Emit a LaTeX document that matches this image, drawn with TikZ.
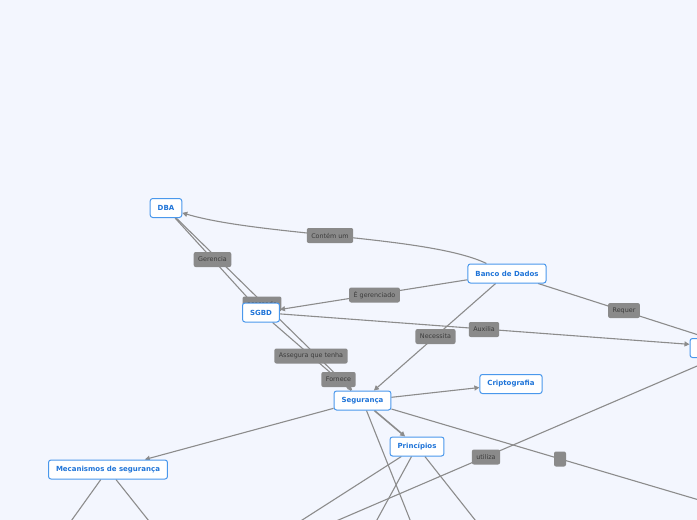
\documentclass[tikz,border=0pt]{standalone}
\usepackage{fontspec}
\setmainfont{DejaVu Sans}
\usetikzlibrary{arrows.meta, backgrounds}
\definecolor{pagebg}{HTML}{F3F6FE}
\definecolor{topicblue}{HTML}{1F74D8}
\definecolor{topicline}{HTML}{4A98EC}
\definecolor{linkgray}{HTML}{8C8C8C}
\definecolor{tagfill}{HTML}{8A8A8A}
\definecolor{tagtext}{HTML}{3C3C3C}

\begin{document}
\begin{tikzpicture}[
  x=1pt, y=-1pt,
  topic/.style={rectangle, rounded corners=2.5pt, draw=topicline, line width=1pt, fill=white,
    text=topicblue, font=\bfseries\fontsize{7}{8}\selectfont,
    minimum height=19pt, inner xsep=7.5pt, inner ysep=0pt},
  tag/.style={rectangle, rounded corners=2pt, fill=tagfill, text=tagtext,
    font=\fontsize{6.4}{7}\selectfont, minimum height=15pt, inner xsep=4.5pt, inner ysep=0pt},
  link/.style={draw=linkgray, line width=1.1pt},
  arrow/.style={link, -{Triangle[length=5pt, width=5pt]}}
]
\useasboundingbox (0,0) rectangle (697,520);

\node[topic] (dba) at (166,208) {DBA};
\node[topic] (banco) at (507,273.5) {Banco de Dados};
\node[topic] (sgbd) at (261,312.5) {SGBD};
\node[topic] (seguranca) at (362.5,400.5) {Segurança};
\node[topic] (cripto) at (511,384) {Criptografia};
\node[topic] (principios) at (417,446.5) {Princípios};
\node[topic] (mecanismos) at (108,469.5) {Mecanismos de segurança};
\node[topic, minimum width=98pt] (lado) at (739,348) {};

% ends of links leaving the page
\coordinate (ladoOut) at (250,558);
\coordinate (segOut) at (760,518);
\coordinate (segDown) at (430,570);
\coordinate (prinA) at (260,547);
\coordinate (prinB) at (360,551);
\coordinate (prinC) at (500,551.5);
\coordinate (mecA) at (50,550.5);
\coordinate (mecB) at (172,550);

\begin{scope}[on background layer]
\fill[pagebg] (0,0) rectangle (697,520);

\draw[arrow] (banco) .. controls (430,236) and (260,236) .. (dba);
\draw[link] (dba) -- (sgbd);
\draw[arrow] (dba) -- (seguranca);
\draw[link] (sgbd) -- (seguranca);
\draw[arrow] (banco) -- (sgbd);
\draw[arrow] (sgbd) -- (lado);
\draw[arrow] (banco) -- (seguranca);
\draw[link] (banco) -- (lado);
\draw[link] (lado) -- (ladoOut);
\draw[arrow] (seguranca) -- (cripto);
\draw[arrow, line width=1.6pt] (seguranca) -- (principios);
\draw[arrow] (seguranca) -- (mecanismos);
\draw[link] (seguranca) -- (segOut);
\draw[link] (seguranca) -- (segDown);
\draw[link] (principios) -- (prinA);
\draw[link] (principios) -- (prinB);
\draw[link] (principios) -- (prinC);
\draw[link] (mecanismos) -- (mecA);
\draw[link] (mecanismos) -- (mecB);

\node[tag] (tContem) at (330,235.5) {Contém um};
\node[tag] (tGerencia) at (212.5,259.5) {Gerencia};
\node[tag] (tAcessado) at (262,304) {acessado};
\node[tag] (tGerenciado) at (374.5,295) {É gerenciado};
\node[tag] (tAuxilia) at (484,329.5) {Auxilia};
\node[tag] (tNecessita) at (435.5,336.5) {Necessita};
\node[tag] (tRequer) at (624,310.5) {Requer};
\node[tag] (tAssegura) at (311,356) {Assegura que tenha};
\node[tag] (tFornece) at (338.5,379.5) {Fornece};
\node[tag] (tUtiliza) at (486,457) {utiliza};
\node[tag, minimum width=12pt, inner xsep=0pt] (tVazio) at (560,459) {};
\end{scope}

\end{tikzpicture}
\end{document}
